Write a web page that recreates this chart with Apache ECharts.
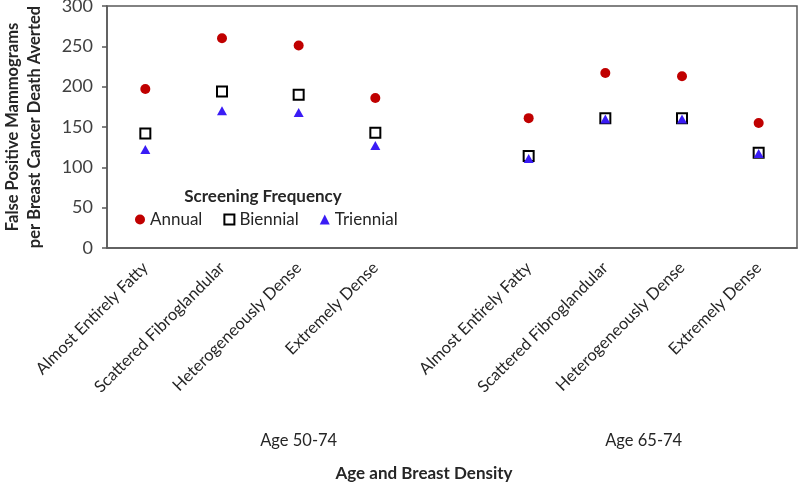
<!DOCTYPE html>
<html>
<head>
<meta charset="utf-8">
<script src="https://cdn.jsdelivr.net/npm/echarts@6/dist/echarts.min.js"></script>
<style>html,body{margin:0;padding:0;background:#fff}#c{width:800px;height:485px}</style>
</head>
<body>
<div id="c"></div>
<script>
const categories = ['Almost Entirely Fatty', 'Scattered Fibroglandular', 'Heterogeneously Dense', 'Extremely Dense', '',
                    'Almost Entirely Fatty', 'Scattered Fibroglandular', 'Heterogeneously Dense', 'Extremely Dense'];
const annual    = [197, 260, 251, 186, null, 161, 217, 213, 155];
const biennial  = [142, 194, 190, 143, null, 114, 161, 161, 118];
const triennial = [122, 170, 168, 127, null, 111, 160, 160, 117];
const groupLabels = [{ at: 2.5, text: 'Age 50-74' }, { at: 7, text: 'Age 65-74' }];
const yTicks = { min: 0, max: 300, step: 50 };

const FONT = 'Lato';
const chart = echarts.init(document.getElementById('c'));
chart.setOption({
  animation: false,
  textStyle: { fontFamily: FONT },
  grid: { left: 107, right: 3, top: 6, bottom: 237, containLabel: false, outerBoundsMode: 'none',
          show: true, borderColor: '#595959', borderWidth: 1.5, backgroundColor: 'transparent' },
  graphic: [
    { type: 'text', x: 263, y: 197, style: { text: 'Screening Frequency', font: 'bold 17px ' + FONT, fill: '#262626', textAlign: 'center', textVerticalAlign: 'middle' } },
    { type: 'text', x: 424, y: 474, style: { text: 'Age and Breast Density', font: 'bold 17px ' + FONT, fill: '#262626', textAlign: 'center', textVerticalAlign: 'middle' } }
  ],
  legend: {
    data: ['Annual', 'Biennial', 'Triennial'],
    left: 135, top: 211, padding: 0,
    itemWidth: 10, itemHeight: 10, itemGap: 21,
    textStyle: { fontFamily: FONT, fontSize: 17, color: '#262626' }
  },
  xAxis: [
    {
      type: 'category', data: categories, boundaryGap: true,
      axisLine: { lineStyle: { color: '#595959', width: 1.5 } },
      axisTick: { show: false },
      axisLabel: { interval: 0, rotate: 45, margin: 17, fontSize: 16.5, color: '#262626', fontFamily: FONT }
    },
    {
      type: 'value', min: 0, max: 9, interval: 0.5, position: 'bottom', offset: 180,
      axisLine: { show: false }, axisTick: { show: false }, splitLine: { show: false },
      axisLabel: {
        fontSize: 16.5, color: '#262626', fontFamily: FONT, margin: 4,
        showMinLabel: true, showMaxLabel: true,
        formatter: function (v) { const g = groupLabels.find(function (d) { return Math.abs(d.at - v) < 1e-6; }); return g ? g.text : ''; }
      }
    }
  ],
  yAxis: {
    type: 'value', min: yTicks.min, max: yTicks.max, interval: yTicks.step,
    name: 'False Positive Mammograms\nper Breast Cancer Death Averted',
    nameLocation: 'middle', nameGap: 61, nameRotate: 90,
    nameTextStyle: { fontWeight: 'bold', fontSize: 16.5, color: '#262626', lineHeight: 22, fontFamily: FONT },
    axisLine: { show: true, lineStyle: { color: '#595959', width: 1.5 } },
    axisTick: { show: true, inside: false, length: 5, lineStyle: { color: '#595959', width: 1.5 } },
    splitLine: { show: false },
    axisLabel: { fontSize: 18, color: '#404040', margin: 14, fontFamily: FONT }
  },
  series: [
    { name: 'Annual', type: 'scatter', data: annual, symbol: 'circle', symbolSize: 10,
      itemStyle: { color: '#c00000', opacity: 1 }, z: 3 },
    { name: 'Biennial', type: 'scatter', data: biennial, symbol: 'rect', symbolSize: 10,
      itemStyle: { color: '#ffffff', borderColor: '#000000', borderWidth: 2, opacity: 1 }, z: 3 },
    { name: 'Triennial', type: 'scatter', data: triennial, symbol: 'triangle', symbolSize: [10, 9],
      itemStyle: { color: '#3a1cf5', opacity: 1 }, z: 4 }
  ]
});
</script>
</body>
</html>
